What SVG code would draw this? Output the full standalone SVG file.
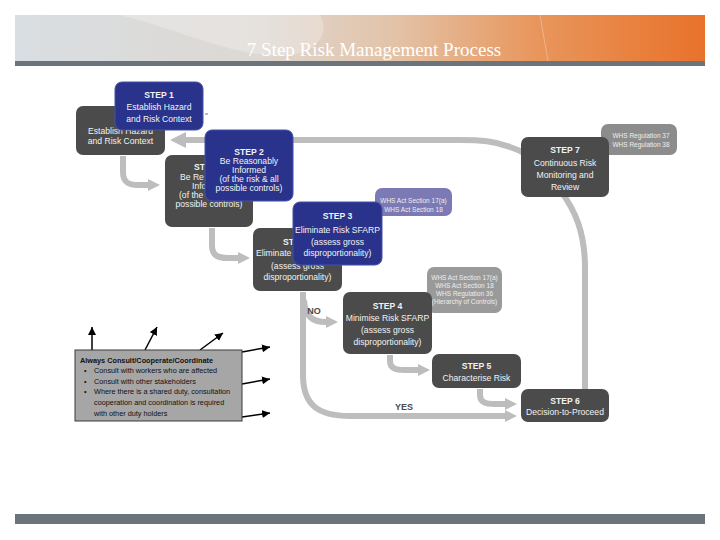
<svg xmlns="http://www.w3.org/2000/svg" width="720" height="540" viewBox="0 0 720 540">
<defs>
<linearGradient id="ban" x1="0" y1="0" x2="1" y2="0">
<stop offset="0" stop-color="#d9dee2"/>
<stop offset="0.35" stop-color="#ddd8d3"/>
<stop offset="0.55" stop-color="#e3c3a8"/>
<stop offset="0.75" stop-color="#e8975e"/>
<stop offset="1" stop-color="#e8722a"/>
</linearGradient>
<marker id="ag" viewBox="0 0 12 12" refX="0" refY="6" markerWidth="12" markerHeight="12" markerUnits="userSpaceOnUse" orient="auto">
<path d="M0,0 L12,6 L0,12 z" fill="#bdbdbd"/>
</marker>
<marker id="agL" viewBox="0 0 16 16" refX="0" refY="8" markerWidth="16" markerHeight="16" markerUnits="userSpaceOnUse" orient="auto">
<path d="M0,0 L16,8 L0,16 z" fill="#bdbdbd"/>
</marker>
<marker id="ab" viewBox="0 0 8 8" refX="8" refY="4" markerWidth="8" markerHeight="8" markerUnits="userSpaceOnUse" orient="auto">
<path d="M0,0 L8,4 L0,8 z" fill="#000"/>
</marker>
</defs>
<style>
.g{fill:none;stroke:#bdbdbd;stroke-width:6}
.bk{fill:none;stroke:#000;stroke-width:1.5}
.blue{fill:#29338c;stroke:#4550a6;stroke-width:1}
.dark{fill:#4b4b4b}
.lav{fill:#7c7ab5}
.lg{fill:#9a9a9a}
.t{font-family:"Liberation Sans",Arial,sans-serif;font-size:8.6px;fill:#f2f2f2;text-anchor:middle}
.st{text-anchor:start}
.b{font-weight:bold}
.s{font-family:"Liberation Sans",Arial,sans-serif;font-size:6.5px;fill:#eeeeee;text-anchor:middle}
.c{font-family:"Liberation Sans",Arial,sans-serif;font-size:7.3px;fill:#111}
.lbl{font-family:"Liberation Sans",Arial,sans-serif;font-size:9px;font-weight:bold;fill:#4a4a4a;text-anchor:middle}
</style>

<!-- header -->
<rect x="15" y="15" width="690" height="46" fill="url(#ban)"/>
<path d="M120,15 C180,30 230,55 280,56 C320,56 330,30 320,15 Z" fill="#ffffff" opacity="0.25"/>
<path d="M540,15 L548,61" stroke="#f3c8a8" stroke-width="1" opacity="0.6"/>
<rect x="15" y="61" width="690" height="5" fill="#6b737b"/>
<text x="374" y="56" font-family="'Liberation Serif','Times New Roman',serif" font-size="19" fill="#ffffff" text-anchor="middle">7 Step Risk Management Process</text>
<rect x="15" y="514" width="690" height="10" fill="#6b737b"/>

<!-- connectors -->
<g id="connectors">
<path class="g" stroke-width="7" d="M585,389 L585,268 C585,232 575,210 560,190 C548,172 535,155 510,147 C495,141 480,140 460,140 L186,140" marker-end="url(#agL)"/>
<path class="g" d="M123,156 L123,172 C123,182 128,185 138,185 L148,185" marker-end="url(#ag)"/>
<path class="g" d="M212,228 L212,245 C212,255 217,258 228,258 L238,258" marker-end="url(#ag)"/>
<path class="g" stroke-width="5" d="M303,292 L303,375 C303,405 318,416 350,416 L505,416" marker-end="url(#ag)"/>
<path class="g" stroke-width="5" d="M304,300 C305,316 312,322 326,322" marker-end="url(#ag)"/>
<path class="g" d="M390,355 L390,361 C390,368 395,370 405,370 L418,370" marker-end="url(#ag)"/>
<path class="g" d="M480,389 L480,395 C480,402 485,404 495,404 L505,404" marker-end="url(#ag)"/>
<rect x="205" y="113" width="3" height="2" fill="#bdbdbd"/>
<rect x="249" y="205" width="3" height="3" fill="#bdbdbd"/>
<path class="bk" d="M92,350 L92,327" marker-end="url(#ab)"/>
<path class="bk" d="M145,350 L157,327" marker-end="url(#ab)"/>
<path class="bk" d="M200,350 L223,333" marker-end="url(#ab)"/>
<path class="bk" d="M242,352 L270,347" marker-end="url(#ab)"/>
<path class="bk" d="M242,384 L270,379" marker-end="url(#ab)"/>
<path class="bk" d="M242,417 L270,413" marker-end="url(#ab)"/>
</g>
<text class="lbl" x="314" y="314">NO</text>
<text class="lbl" x="404" y="410">YES</text>

<!-- nodes -->
<g id="step1-dark">
<rect class="dark" x="76" y="106" width="89" height="49" rx="7"/>
<text class="t" x="120.5" y="133.5">Establish Hazard</text>
<text class="t" x="120.5" y="144">and Risk Context</text>
</g>
<g id="step1">
<rect class="blue" x="115" y="82" width="88" height="48" rx="7"/>
<text class="t b" x="159" y="97.5">STEP 1</text>
<text class="t" x="159" y="110">Establish Hazard</text>
<text class="t" x="159" y="122">and Risk Context</text>
</g>
<g id="step2-dark">
<rect class="dark" x="165" y="155" width="88" height="72" rx="7"/>
<text class="t b st" x="194" y="170">ST</text>
<text class="t st" x="180" y="180">Be Re</text>
<text class="t st" x="192" y="189">Info</text>
<text class="t st" x="179" y="198">(of the</text>
<text class="t" x="209" y="207">possible controls)</text>
</g>
<g id="step2">
<rect class="blue" x="205" y="130" width="88" height="71" rx="7"/>
<text class="t b" x="249" y="155">STEP 2</text>
<text class="t" x="249" y="164">Be Reasonably</text>
<text class="t" x="249" y="173">Informed</text>
<text class="t" x="249" y="182">(of the risk &amp; all</text>
<text class="t" x="249" y="191">possible controls)</text>
</g>
<g id="label-s3">
<rect class="lav" x="375" y="188" width="77" height="28" rx="7"/>
<text class="s" x="413.5" y="203">WHS Act Section 17(a)</text>
<text class="s" x="413.5" y="211.5">WHS Act Section 18</text>
</g>
<g id="step3-dark">
<rect class="dark" x="253" y="228" width="89" height="63" rx="7"/>
<text class="t b st" x="283" y="245">ST</text>
<text class="t st" x="256" y="256">Eliminate</text>
<text class="t" x="297.5" y="268.5">(assess gross</text>
<text class="t" x="297.5" y="280">disproportionality)</text>
</g>
<g id="step3">
<rect class="blue" x="293" y="202" width="89" height="63" rx="7"/>
<text class="t b" x="337.5" y="219">STEP 3</text>
<text class="t" x="337.5" y="232.5">Eliminate Risk SFARP</text>
<text class="t" x="337.5" y="244.5">(assess gross</text>
<text class="t" x="337.5" y="256">disproportionality)</text>
</g>
<g id="label-s4">
<rect class="lg" x="427" y="267" width="75" height="46" rx="7"/>
<text class="s" x="464.5" y="280">WHS Act Section 17(a)</text>
<text class="s" x="464.5" y="288">WHS Act Section 18</text>
<text class="s" x="464.5" y="296">WHS Regulation 36</text>
<text class="s" x="464.5" y="304">(Hierarchy of Controls)</text>
</g>
<g id="step4">
<rect class="dark" x="343" y="292" width="89" height="62" rx="7"/>
<text class="t b" x="387.5" y="308.5">STEP 4</text>
<text class="t" x="387.5" y="321">Minimise Risk SFARP</text>
<text class="t" x="387.5" y="333">(assess gross</text>
<text class="t" x="387.5" y="344.5">disproportionality)</text>
</g>
<g id="step5">
<rect class="dark" x="432" y="354" width="89" height="34" rx="7"/>
<text class="t b" x="476.5" y="368.5">STEP 5</text>
<text class="t" x="476.5" y="381">Characterise Risk</text>
</g>
<g id="step6">
<rect class="dark" x="521" y="389" width="88" height="33" rx="7"/>
<text class="t b" x="565" y="403.5">STEP 6</text>
<text class="t" x="565" y="415">Decision-to-Proceed</text>
</g>
<g id="label-s7">
<rect fill="#8c8c8c" x="601" y="124" width="76" height="31" rx="7"/>
<text class="s" x="641" y="138">WHS Regulation 37</text>
<text class="s" x="641" y="146.5">WHS Regulation 38</text>
</g>
<g id="step7">
<rect class="dark" x="521" y="137" width="88" height="60" rx="7"/>
<text class="t b" x="565" y="152.5">STEP 7</text>
<text class="t" x="565" y="165.5">Continuous Risk</text>
<text class="t" x="565" y="177.5">Monitoring and</text>
<text class="t" x="565" y="189.5">Review</text>
</g>
<g id="consult">
<rect x="75" y="350" width="167" height="71" fill="#a6a6a6" stroke="#3a3a3a" stroke-width="1"/>
<text class="c b" x="80" y="363" font-size="7.5">Always Consult/Cooperate/Coordinate</text>
<text class="c" x="84" y="373">•</text>
<text class="c" x="94" y="373">Consult with workers who are affected</text>
<text class="c" x="84" y="383.5">•</text>
<text class="c" x="94" y="383.5">Consult with other stakeholders</text>
<text class="c" x="84" y="394">•</text>
<text class="c" x="94" y="394">Where there is a shared duty, consultation</text>
<text class="c" x="94" y="405">cooperation and coordination is required</text>
<text class="c" x="94" y="415.5">with other duty holders</text>
</g>
</svg>
